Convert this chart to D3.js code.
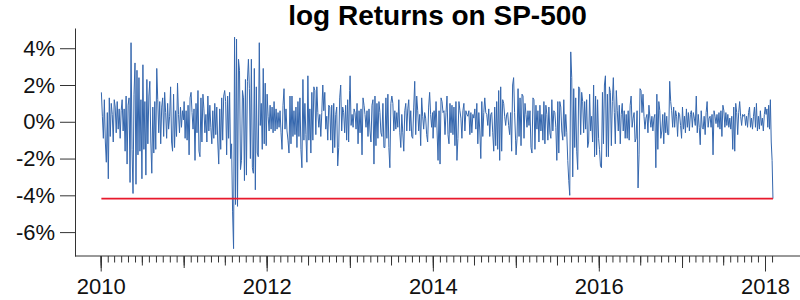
<!DOCTYPE html>
<html>
<head>
<meta charset="utf-8">
<script src="https://cdn.jsdelivr.net/npm/d3@7"></script>
<style>
  body { margin: 0; background: #fff; }
  text { font-family: "Liberation Sans", Arial, sans-serif; }
</style>
</head>
<body>
<svg id="chart" width="800" height="300"></svg>
<script>
// daily log returns in % (about one value every 3 trading days)
var r2010 = [1.6, 0.3, -0.9, 1.2, -1.1, -2.2, 0.5,
  -3.1, 1.3, -0.8, 1.0, 0.4, -1.1, 1.2,
  0.8, -0.6, 1.1, -0.4, 0.7, -0.9, 0.6,
  1.2, -0.5, 0.7, -1.6, 1.4, -2.3, 0.9,
  1.3, -3.3, 4.3, -1.5, -3.9, 1.5, 3.2,
  -3.4, 2.8, -1.8, 2.4, -1.6, 1.2, -3.1,
  3.1, -1.5, 1.1, -2.9, 2.3, -1.2, 1.4,
  2.2, -1.1, -2.8, 0.8, -1.7, 1.1, -1.5,
  2.9, 1.2, -0.6, 1.1, -1.2, 0.8, 1.3,
  -0.8, 1.6, 0.5, -0.9, 1.0, -0.4, 0.3,
  1.9, -1.1, -1.6, 1.5, -1.4, 0.6, -0.8,
  2.1, 0.4, -0.6, 0.8, -0.3, 0.6, 0.1];
var r2011 = [1.1, -0.9, 0.6, -1.0, 0.9, -1.8, 1.3,
  1.6, 0.5, -0.4, 0.7, -2.1, 1.0, -0.6,
  1.7, -1.6, -1.9, 1.3, -1.1, 1.5, 0.7,
  -0.6, 0.4, -1.1, 1.4, -0.5, 0.9, -0.3,
  -1.2, 0.6, -0.9, 1.0, -0.7, 0.8, -1.1,
  -2.3, 0.7, -1.5, 1.3, -1.0, 1.4, 1.7,
  1.1, -1.8, 1.4, -0.9, 1.6, -2.0, -1.2,
  -4.9, -6.9, 4.6, -4.5, 4.5, -4.6, 3.4,
  2.8, -2.6, -2.1, 1.7, 1.3, -3.2, 2.3,
  -2.9, 2.2, 3.4, 1.8, -2.0, 3.4, -2.5,
  -2.8, 2.9, -3.7, 1.9, -1.7, -1.9, 4.3,
  -0.2, 1.0, -1.5, 2.9, -1.2, 2.1, -1.3];
var r2012 = [1.5, 0.3, -0.5, 0.9, -0.4, 0.8, -0.6,
  1.1, -0.5, 0.7, -0.4, 0.5, -0.3, 0.6,
  -0.6, -1.5, 0.9, 1.8, -0.4, 0.7, -0.5,
  -1.0, -1.7, 1.4, -1.2, 1.4, -0.8, 0.6,
  -0.7, 0.8, -1.4, 1.1, -0.8, 1.3, -1.5,
  -2.5, 2.3, -1.0, 1.0, -0.7, -2.2, 2.5,
  -1.0, 0.7, -1.7, 1.6, -1.0, 1.9, 1.7,
  -0.7, 1.9, 0.5, -0.3, 0.4, -0.8, 0.5,
  2.0, 0.6, 1.6, -0.4, 0.3, -1.0, 0.9,
  0.8, -1.0, 0.9, -1.7, 1.0, -1.4, 0.4,
  0.8, -2.4, -1.4, 1.3, 2.0, -0.5, 0.8,
  0.5, -0.6, 0.9, -1.0, 1.2, -1.1, 1.7];
var r2013 = [2.5, -0.2, 0.4, -0.3, 0.7, 0.5, -0.4,
  1.0, -1.2, 0.6, -0.6, 0.7, -1.8, 1.3,
  0.9, 0.4, -0.3, 0.6, -0.8, 0.7, -0.5,
  -1.1, 0.9, 1.2, -2.3, 1.4, -1.3, 1.0,
  -0.9, 1.1, 0.5, -0.6, -0.8, 1.0, -1.4,
  -1.4, 1.3, -0.9, 1.5, -1.4, -2.5, 1.0,
  1.4, 1.0, -0.5, 0.6, -0.4, 0.5, -0.3,
  1.2, -0.6, -1.4, 0.4, -0.6, -1.6, 0.6,
  1.0, -0.5, 0.7, 1.2, -0.5, 0.6, -0.8,
  -0.9, 0.8, 2.2, -0.7, 1.4, 0.6, -0.5,
  0.4, -1.3, 1.3, 0.3, -0.4, 0.5, 0.2,
  -0.7, -1.1, 0.8, 1.6, 0.4, -0.3, 0.5];
var r2014 = [-0.9, 0.6, -0.3, 1.1, -0.5, -2.1, 0.6,
  -2.3, 1.3, 1.1, 0.5, 0.6, -0.7, 0.5,
  1.4, -0.7, -1.2, 1.0, -0.6, 0.9, -0.7,
  0.8, -1.3, 1.1, -2.1, -0.9, 1.1, 0.6,
  0.2, -0.9, 0.6, 1.0, -0.5, 0.6, 0.4,
  0.3, 0.6, -0.7, 0.5, -0.6, 0.4, 0.2,
  0.7, -0.4, 1.0, -1.2, 0.5, -0.5, -2.0,
  1.1, -0.8, 0.5, 1.3, 0.5, 0.4, -0.2,
  0.7, -0.8, 0.4, 0.5, -0.6, -1.6, 0.8,
  -1.3, 1.1, -1.5, 1.7, -2.1, 1.9, -1.6,
  1.2, 1.0, 0.3, -0.2, 0.4, 0.5, -0.2,
  -0.7, 0.5, -1.6, 2.0, 2.4, 0.5, -1.0];
var r2015 = [-1.8, -0.9, 1.8, -0.8, 1.3, -1.3, 1.5,
  1.4, -0.9, 1.0, 0.4, -0.3, 0.6, -0.2,
  0.6, -1.4, -1.7, 1.3, 1.2, -1.5, 0.9,
  -0.4, 0.6, -1.1, 0.9, -0.5, 0.4, -1.0,
  1.1, -1.2, 0.9, 0.4, -1.0, 0.8, -0.6,
  -0.9, 1.2, -0.5, 0.6, 0.5, -0.3, -2.1,
  1.1, -1.7, 1.1, 0.8, -0.5, -1.0, 1.2,
  -0.8, 0.4, -0.6, -2.1, -3.2, -4.0, 3.8,
  2.4, -3.0, 1.8, -1.4, 1.3, -1.6, -2.6,
  1.9, 1.8, -0.7, 1.6, 1.1, -0.6, 1.1,
  -0.4, 1.2, -1.4, -1.1, 1.5, -0.5, 0.3,
  -1.1, 2.0, -1.9, 1.4, -1.8, 1.2, -0.9];
var r2016 = [-1.5, -2.4, -2.5, 1.6, -1.2, 2.0, 2.5,
  -1.9, 1.5, -1.9, 1.9, 1.6, -1.3, 1.1,
  2.4, 0.5, -1.2, 1.7, 0.6, -0.5, 0.9,
  -1.2, 0.4, 1.0, -0.5, 0.6, -0.9, 0.4,
  -0.9, 0.6, -1.0, 0.9, 1.4, -0.3, 0.2,
  0.5, -1.1, -0.9, 0.6, -3.6, -1.8, 1.8,
  1.7, 0.5, 1.5, 0.3, -0.4, 0.2, 0.4,
  -0.6, 0.9, 0.2, -0.3, 0.3, -0.5, 0.2,
  0.4, -2.5, 1.5, -1.5, 1.1, 0.6, -0.9,
  -0.5, 0.4, -1.2, 0.5, -0.6, 0.3, -0.7,
  -0.7, 2.2, 1.1, 0.6, -0.3, 0.8, -0.3,
  0.6, 0.3, -0.8, 0.5, 0.4, -0.2, -0.9];
var r2017 = [0.8, -0.4, 0.3, -0.6, 0.7, -0.3, 0.5,
  -0.5, 0.4, 0.6, -0.3, 0.5, 0.2, -0.2,
  1.4, -0.6, 0.4, -0.3, -1.25, 0.6, -0.3,
  -0.4, 0.3, -0.7, 0.5, 1.1, -0.3, 0.2,
  0.3, -0.3, 0.4, -1.8, 0.6, 0.3, -0.1,
  0.4, -0.3, 0.5, -0.4, 0.6, -0.8, 0.9,
  0.6, -0.3, 0.5, -0.2, 0.4, -0.3, 0.2,
  -0.4, 0.3, -1.5, 0.8, -1.6, 1.0, 0.5,
  -0.7, 0.5, 1.1, 0.3, -0.2, 0.4, 0.3,
  0.4, -0.2, 0.3, -0.3, 0.5, 0.8, -0.3,
  0.2, -0.4, 0.3, 0.8, -0.3, 1.0, -0.5,
  0.3, -0.4, 0.6, -0.2, 0.2, -0.5, 0.4];
var r2018 = [0.8, 0.4, 0.7, -0.3, 0.9, -0.4, 1.2, -1.1, -2.1, -4.18];

var yTicks = [-6, -4, -2, 0, 2, 4];
var xLabels = [2010, 2012, 2014, 2016, 2018];

var chunks = [
  [new Date(2010, 0, 4), new Date(2010, 11, 31), r2010],
  [new Date(2011, 0, 3), new Date(2011, 11, 30), r2011],
  [new Date(2012, 0, 3), new Date(2012, 11, 31), r2012],
  [new Date(2013, 0, 2), new Date(2013, 11, 31), r2013],
  [new Date(2014, 0, 2), new Date(2014, 11, 31), r2014],
  [new Date(2015, 0, 2), new Date(2015, 11, 31), r2015],
  [new Date(2016, 0, 4), new Date(2016, 11, 30), r2016],
  [new Date(2017, 0, 3), new Date(2017, 11, 29), r2017],
  [new Date(2018, 0, 2), new Date(2018, 1, 5), r2018]
];

var series = [];
chunks.forEach(c => {
  var t = d3.scaleLinear().domain([0, c[2].length - 1]).range([c[0], c[1]]);
  c[2].forEach((v, i) => series.push({date: new Date(t(i)), value: v}));
});
var lastValue = series[series.length - 1].value;

var svg = d3.select("#chart");

var x = d3.scaleTime()
    .domain([new Date(2010, 0, 1), new Date(2018, 0, 1)])
    .range([100.7, 765]);
var y = d3.scaleLinear()
    .domain([-7.3, 5.1])
    .range([256, 28]);

svg.append("text")
    .attr("x", 437.5).attr("y", 25)
    .attr("text-anchor", "middle")
    .style("font-size", "28px").style("font-weight", "bold")
    .text("log Returns on SP-500");

// y axis
var ya = svg.append("g")
    .attr("transform", "translate(75,0)")
    .call(d3.axisLeft(y).tickValues(yTicks).tickSize(15).tickSizeOuter(0).tickPadding(5)
      .tickFormat(d => d + "%"));
ya.selectAll("text").style("font-size", "22px").style("font-family", "Liberation Sans, Arial, sans-serif").attr("fill", "#111");
ya.selectAll("line, path").attr("stroke", "#333");

// x axis with ticks of several lengths
var xg = svg.append("g").attr("transform", "translate(0,256)");
xg.append("line").attr("x1", 75).attr("x2", 800).attr("stroke", "#333");

function tickRow(values, size, labels) {
  var ax = d3.axisBottom(x).tickValues(values).tickSize(size).tickSizeOuter(0);
  if (labels) ax.tickFormat(d3.timeFormat("%Y")).tickPadding(7);
  else ax.tickFormat("");
  var g = xg.append("g").call(ax);
  g.select(".domain").remove();
  g.selectAll("line").attr("stroke", "#333");
  g.selectAll("text").style("font-size", "22px").style("font-family", "Liberation Sans, Arial, sans-serif").attr("fill", "#111");
}
tickRow(d3.timeMonth.range(new Date(2010, 0, 1), new Date(2018, 1, 2)), 6.5);
tickRow(d3.timeMonth.every(6).range(new Date(2010, 0, 1), new Date(2018, 0, 2)), 9.5);
tickRow(d3.timeYear.range(new Date(2010, 0, 1), new Date(2018, 0, 2)), 12);
tickRow(xLabels.map(d => new Date(d, 0, 1)), 15.5, true);

// series
var line = d3.line()
    .x(d => x(d.date))
    .y(d => y(d.value));

svg.append("path")
    .datum(series)
    .attr("fill", "none")
    .attr("stroke", "#3567ae")
    .attr("stroke-width", 1)
    .attr("d", line);

// horizontal line at the last return
svg.append("line")
    .attr("x1", x(series[0].date)).attr("x2", x(series[series.length - 1].date))
    .attr("y1", y(lastValue)).attr("y2", y(lastValue))
    .attr("stroke", "#e8192c")
    .attr("stroke-width", 1.6);
</script>
</body>
</html>
